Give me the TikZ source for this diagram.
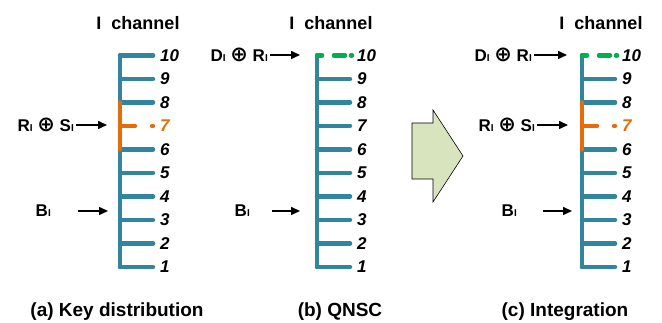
\documentclass[tikz,border=0pt]{standalone}
\usepackage{fontspec}
\setmainfont{Liberation Sans}
\newfontfamily\symfont{DejaVu Sans}
\usetikzlibrary{arrows.meta,calc,positioning}

\definecolor{railblue}{RGB}{49,133,156}
\definecolor{keyorange}{RGB}{228,108,10}
\definecolor{qgreen}{RGB}{0,176,80}
\definecolor{shiftfill}{RGB}{215,228,189}
\newcommand{\lowI}{{\fontsize{10}{10}\selectfont I}}
\newcommand{\xorsym}{{\symfont\fontsize{21}{21}\selectfont ⊕}}

\begin{document}
\begin{tikzpicture}[x=1pt, y=1pt,
    rail/.style={draw=railblue, line width=4.5pt, line cap=round},
    num/.style={font=\fontsize{17}{17}\selectfont\bfseries\itshape, inner sep=0pt},
    title/.style={font=\fontsize{18}{18}\selectfont\bfseries, inner sep=0pt, anchor=base},
    caption/.style={font=\fontsize{19}{19}\selectfont\bfseries, inner sep=0pt, anchor=base},
    tag/.style={font=\fontsize{17}{17}\selectfont\bfseries, inner sep=2pt},
    line/.style={draw, line width=1.5pt, -{Triangle[length=9pt, width=8pt]}}
]

\useasboundingbox (0,0) rectangle (662,323);

% Rails
\foreach \p/\x in {a/120, b/317, c/582} {
    \foreach \k in {1,...,10}
        \coordinate (\p\k) at (\x, 32.5+23.5*\k);
    \draw[rail] (\p1) -- (\p10);
}

% Rungs
\foreach \k in {1,2,3,4,5,6,8,9,10} \draw[rail] (a\k) -- ++(33,0);
\foreach \k in {1,...,9} \draw[rail] (b\k) -- ++(33,0);
\foreach \k in {1,2,3,4,5,6,8,9} \draw[rail] (c\k) -- ++(33,0);
\draw[rail, draw=keyorange] (a8) -- (a6);
\draw[rail, draw=keyorange, dash pattern=on 15pt off 17pt on 1pt] (a7) -- ++(33,0);
\draw[rail, draw=keyorange] (c8) -- (c6);
\draw[rail, draw=keyorange, dash pattern=on 15pt off 17pt on 1pt] (c7) -- ++(33,0);
\draw[rail, draw=qgreen, dash pattern=on 5pt off 12pt on 11pt off 6pt] (b10) -- ++(35,0);
\draw[rail, draw=qgreen, dash pattern=on 5pt off 12pt on 11pt off 6pt] (c10) -- ++(35,0);

% Numbers
\foreach \p in {a,b,c}
    \foreach \k in {1,2,3,4,5,6,8,9,10}
        \node[num, right=40pt of \p\k] (\p n\k) {\k};
\node[num, text=keyorange, right=40pt of a7] (an7) {7};
\node[num, right=40pt of b7] (bn7) {7};
\node[num, text=keyorange, right=40pt of c7] (cn7) {7};

% Arrow ends
\coordinate (a-rs-in) at (107,198);
\coordinate (a-b-in) at (108,112);
\coordinate (b-dr-in) at (300,268);
\coordinate (b-b-in) at (300,112);
\coordinate (c-dr-in) at (567,268);
\coordinate (c-rs-in) at (568,198);
\coordinate (c-b-in) at (572,112);

% Tags
\node[tag, left=31pt of a-rs-in] (a-rs) {R\lowI\ \xorsym\ S\lowI};
\node[tag, left=55pt of a-b-in] (a-b) {B\lowI};
\node[tag, left=30pt of b-dr-in] (b-dr) {D\lowI\ \xorsym\ R\lowI};
\node[tag, left=48pt of b-b-in] (b-b) {B\lowI};
\node[tag, left=33pt of c-dr-in] (c-dr) {D\lowI\ \xorsym\ R\lowI};
\node[tag, left=31pt of c-rs-in] (c-rs) {R\lowI\ \xorsym\ S\lowI};
\node[tag, left=53pt of c-b-in] (c-b) {B\lowI};

% Lines
\draw[line] (a-rs) -- (a-rs-in);
\draw[line, shorten <=25pt] (a-b) -- (a-b-in);
\draw[line] (b-dr) -- (b-dr-in);
\draw[line, shorten <=20pt] (b-b) -- (b-b-in);
\draw[line] (c-dr) -- (c-dr-in);
\draw[line] (c-rs) -- (c-rs-in);
\draw[line, shorten <=24pt] (c-b) -- (c-b-in);

% Shift arrow
\draw[fill=shiftfill, line width=0.6pt] (412,144) -- (412,200) -- (433,200) -- (433,213)
    -- (463,167) -- (433,121) -- (433,144) -- cycle;

% Titles
\node[title] (ttl-a) at (138,293) {I\ \ channel};
\node[title] (ttl-b) at (331,293) {I\ \ channel};
\node[title] (ttl-c) at (601,293) {I\ \ channel};

% Captions
\node[caption] (cap-a) at (117,6) {(a) Key distribution};
\node[caption] (cap-b) at (340,6) {(b) QNSC};
\node[caption] (cap-c) at (565,6) {(c) Integration};

\end{tikzpicture}
\end{document}
